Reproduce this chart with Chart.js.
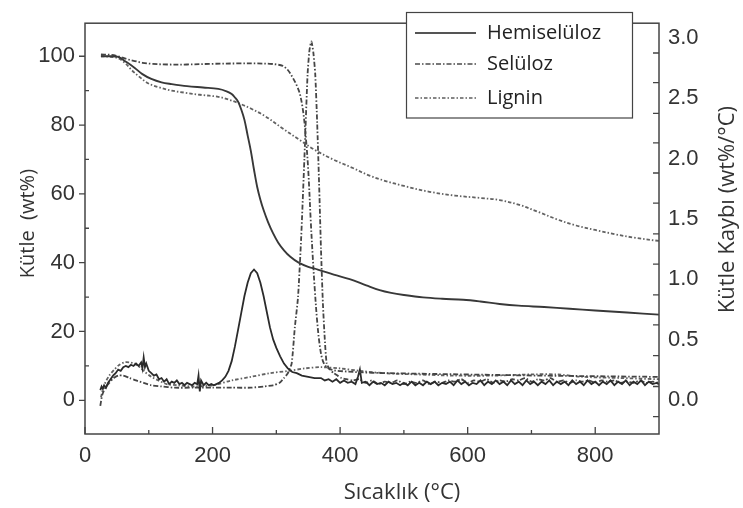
<!DOCTYPE html>
<html lang="tr">
<head>
<meta charset="utf-8">
<title>Hemiselüloz, Selüloz ve Lignin – TG / DTG</title>
<script src="https://cdn.jsdelivr.net/npm/chart.js@4.4.1/dist/chart.umd.min.js"></script>
<style>
  html, body { margin: 0; padding: 0; background: #fff; }
  #wrap { width: 743px; height: 508px; position: relative; }
</style>
</head>
<body>
<div id="wrap"><canvas id="c" width="743" height="508"></canvas></div>
<script>
// ---- axis ticks ----
const temperatureTicks = [0, 200, 400, 600, 800];
const temperatureMinorTicks = [100, 300, 500, 700];
const massTicks = [0, 20, 40, 60, 80, 100];
const massMinorTicks = [10, 30, 50, 70, 90];
const rateTicks = [0.0, 0.5, 1.0, 1.5, 2.0, 2.5, 3.0];
const rateTickMarks = [-0.14, 0.11, 0.365, 0.62, 0.87, 1.125, 1.375, 1.63, 1.88, 2.13, 2.375, 2.63, 2.875];

// ---- series names ----
const seriesNames = ['Hemiselüloz', 'Selüloz', 'Lignin'];

// ---- TG: mass (wt%) vs temperature (°C) ----
const hemiTG = [[25,100],[40,100],[52,99.8],[65,98.3],[78,96.6],[90,94.8],[104,93.4],[120,92.4],[136,91.9],[160,91.3],[185,90.9],[209,90.5],[222,89.8],[230,89],[236,87.8],[240,86.8],[245,84.5],[250,81.5],[255,77],[260,72.5],[265,67],[270,62],[275,58.3],[280,55.3],[287,51.8],[295,48.5],[303,45.8],[312,43.6],[322,41.7],[335,40],[350,38.8],[365,38],[390,36.5],[415,35.2],[441,33.4],[462,32],[480,31.2],[500,30.6],[530,29.9],[560,29.5],[593,29.2],[620,28.7],[650,28],[680,27.5],[720,27.1],[760,26.6],[800,26.1],[850,25.5],[900,24.9]];

const celluloseTG = [[25,100.5],[40,100.4],[52,100],[65,99.2],[78,98.6],[90,98.1],[104,97.8],[130,97.6],[160,97.6],[200,97.8],[240,97.9],[270,97.9],[290,97.8],[300,97.6],[310,97.2],[318,96],[325,94],[332,91.5],[337,89],[342,84],[346,77],[350,67],[354,52],[357,42],[360,33],[364,23],[368,16],[372,12],[377,10],[385,9],[400,8.5],[450,8],[500,7.8],[600,7.5],[700,7.2],[800,7],[900,6.8]];

const ligninTG = [[25,100],[40,99.8],[52,99.4],[63,98],[73,96],[84,94.2],[95,92.6],[104,91.7],[115,91],[136,90],[157,89.4],[180,88.8],[209,88.2],[225,87.4],[240,86.4],[260,84.8],[283,82.5],[310,79],[337,75.6],[360,72.8],[389,70],[420,67.5],[446,65.3],[470,63.8],[500,62.3],[540,60.6],[580,59.5],[620,58.8],[650,58.2],[681,56.8],[710,54.8],[740,52.6],[770,50.8],[800,49.5],[830,48.3],[860,47.3],[900,46.3]];

// ---- DTG: mass loss rate (wt%/°C) vs temperature (°C) ----
const hemiDTG = [[24,0.08],[26,0.11],[28,0.09],[30,0.12],[33,0.1],[36,0.14],[40,0.17],[44,0.2],[48,0.22],[52,0.25],[56,0.24],[60,0.27],[64,0.28],[68,0.27],[72,0.29],[76,0.28],[80,0.3],[84,0.28],[88,0.31],[90,0.26],[92,0.35],[94,0.27],[96,0.3],[100,0.24],[104,0.22],[108,0.2],[112,0.21],[116,0.17],[120,0.18],[124,0.15],[128,0.17],[132,0.13],[136,0.15],[140,0.14],[144,0.16],[148,0.13],[152,0.14],[156,0.12],[160,0.14],[164,0.13],[168,0.12],[172,0.14],[176,0.13],[178,0.2],[180,0.07],[182,0.16],[186,0.12],[190,0.14],[194,0.12],[198,0.13],[202,0.12],[206,0.13],[210,0.14],[215,0.16],[220,0.19],[225,0.24],[230,0.32],[235,0.44],[240,0.58],[245,0.72],[250,0.86],[255,0.97],[260,1.05],[265,1.08],[270,1.05],[275,0.97],[280,0.86],[285,0.73],[290,0.6],[295,0.5],[300,0.43],[306,0.36],[312,0.3],[318,0.26],[325,0.23],[332,0.22],[340,0.2],[350,0.19],[360,0.18],[370,0.18],[376,0.16],[382,0.17],[388,0.15],[394,0.17],[400,0.14],[406,0.16],[412,0.14],[418,0.15],[424,0.13],[428,0.19],[431,0.25],[434,0.14],[440,0.15],[446,0.12],[452,0.15],[458,0.13],[464,0.14],[470,0.12],[476,0.15],[482,0.13],[488,0.14],[494,0.12],[500,0.14],[506,0.12],[512,0.15],[518,0.12],[524,0.14],[530,0.12],[536,0.15],[542,0.13],[548,0.15],[554,0.12],[560,0.14],[566,0.13],[572,0.15],[578,0.12],[584,0.16],[590,0.13],[596,0.15],[602,0.12],[608,0.14],[614,0.13],[620,0.16],[626,0.12],[632,0.15],[638,0.13],[644,0.16],[650,0.13],[656,0.15],[662,0.12],[668,0.16],[674,0.13],[680,0.15],[686,0.12],[692,0.16],[698,0.13],[704,0.15],[710,0.12],[716,0.15],[722,0.13],[728,0.16],[734,0.12],[740,0.15],[746,0.13],[752,0.15],[758,0.12],[764,0.16],[770,0.13],[776,0.15],[782,0.12],[788,0.16],[794,0.13],[800,0.15],[806,0.12],[812,0.15],[818,0.13],[824,0.16],[830,0.12],[836,0.15],[842,0.13],[848,0.16],[854,0.12],[860,0.15],[866,0.13],[872,0.16],[878,0.12],[884,0.15],[890,0.13],[896,0.14],[900,0.13]];

const celluloseDTG = [[24,-0.05],[27,0.04],[32,0.1],[38,0.14],[45,0.18],[52,0.2],[60,0.2],[70,0.18],[80,0.16],[92,0.14],[104,0.12],[120,0.11],[140,0.1],[170,0.1],[200,0.1],[230,0.1],[260,0.1],[280,0.11],[295,0.12],[305,0.14],[312,0.18],[318,0.22],[324,0.3],[329,0.6],[334,0.85],[339,1.35],[344,2.0],[349,2.7],[352,2.9],[355,2.97],[358,2.88],[361,2.7],[364,2.3],[367,1.8],[370,1.25],[373,0.8],[376,0.5],[379,0.3],[384,0.25],[390,0.22],[396,0.2],[402,0.18],[410,0.17],[420,0.16],[430,0.17],[440,0.14],[450,0.16],[460,0.13],[470,0.15],[480,0.14],[490,0.16],[500,0.13],[510,0.15],[520,0.14],[530,0.16],[540,0.13],[550,0.15],[560,0.14],[570,0.16],[580,0.15],[590,0.17],[600,0.14],[610,0.16],[620,0.15],[630,0.17],[640,0.14],[650,0.16],[660,0.15],[670,0.17],[680,0.16],[690,0.18],[700,0.15],[710,0.17],[720,0.16],[730,0.18],[740,0.15],[750,0.16],[760,0.14],[770,0.16],[780,0.15],[790,0.16],[800,0.14],[810,0.16],[820,0.15],[830,0.16],[840,0.14],[850,0.15],[860,0.14],[870,0.16],[880,0.14],[890,0.15],[900,0.14]];

const ligninDTG = [[25,0.02],[30,0.12],[38,0.2],[46,0.25],[54,0.29],[62,0.31],[70,0.31],[78,0.3],[86,0.27],[94,0.23],[104,0.19],[115,0.16],[128,0.13],[145,0.12],[170,0.11],[200,0.12],[230,0.16],[260,0.19],[290,0.22],[320,0.24],[345,0.26],[370,0.27],[400,0.26],[430,0.24],[470,0.22],[520,0.21],[580,0.2],[640,0.2],[700,0.21],[740,0.21],[780,0.19],[840,0.18],[900,0.17]];

// ---- styles ----
const tickFont = { family: '"Liberation Sans", Arial, sans-serif', size: 22 };
const textFont = '"Open Sans", "Noto Sans", sans-serif';
const inkColor = '#333';
const hemiColor = '#383838';
const celluloseColor = '#454545';
const ligninColor = '#626262';
const celluloseDash = [5, 2, 1.5, 2];
const ligninDash = [3.5, 2, 1.5, 2];

const pts = arr => arr.map(([x, y]) => ({ x, y }));

const lineSet = (label, data, axis, color, dash, width, tension) => ({
  label, data: pts(data), yAxisID: axis,
  borderColor: color, borderWidth: width, borderDash: dash || [],
  pointRadius: 0, fill: false, tension: tension
});

const datasets = [
  lineSet(seriesNames[0], hemiTG, 'y', hemiColor, null, 1.9, 0.35),
  lineSet(seriesNames[1], celluloseTG, 'y', celluloseColor, celluloseDash, 1.8, 0.35),
  lineSet(seriesNames[2], ligninTG, 'y', ligninColor, ligninDash, 1.8, 0.35),
  lineSet(seriesNames[0] + ' DTG', hemiDTG, 'y2', '#2b2b2b', null, 1.8, 0),
  lineSet(seriesNames[1] + ' DTG', celluloseDTG, 'y2', celluloseColor, celluloseDash, 1.8, 0.2),
  lineSet(seriesNames[2] + ' DTG', ligninDTG, 'y2', ligninColor, ligninDash, 1.8, 0.3)
];

// frame, tick marks, axis titles and legend box
const decorPlugin = {
  id: 'decor',
  afterDraw(chart) {
    const { ctx, chartArea: a, scales } = chart;
    const sx = scales.x, sy = scales.y, sy2 = scales.y2;
    ctx.save();
    ctx.strokeStyle = '#444';
    ctx.lineWidth = 1.5;
    ctx.strokeRect(a.left, a.top, a.right - a.left, a.bottom - a.top);

    ctx.lineWidth = 1.3;
    ctx.beginPath();
    temperatureTicks.forEach(v => { const p = sx.getPixelForValue(v); ctx.moveTo(p, a.bottom); ctx.lineTo(p, a.bottom - 7); });
    temperatureMinorTicks.forEach(v => { const p = sx.getPixelForValue(v); ctx.moveTo(p, a.bottom); ctx.lineTo(p, a.bottom - 4); });
    massTicks.forEach(v => { const p = sy.getPixelForValue(v); ctx.moveTo(a.left - 6, p); ctx.lineTo(a.left, p); });
    massMinorTicks.forEach(v => { const p = sy.getPixelForValue(v); ctx.moveTo(a.left, p); ctx.lineTo(a.left + 4, p); });
    rateTickMarks.forEach(v => { const p = sy2.getPixelForValue(v); ctx.moveTo(a.right - 6, p); ctx.lineTo(a.right, p); });
    ctx.stroke();

    // axis titles
    ctx.fillStyle = inkColor;
    ctx.textAlign = 'center';
    ctx.textBaseline = 'middle';
    const midY = (a.top + a.bottom) / 2;

    ctx.save();
    ctx.translate(a.left - 57, midY - 5);
    ctx.rotate(-Math.PI / 2);
    ctx.font = '20px ' + textFont;
    ctx.fillText('Kütle  (wt%)', 0, 0);
    ctx.restore();

    ctx.save();
    ctx.translate(a.right + 69, midY - 19);
    ctx.rotate(-Math.PI / 2);
    ctx.font = '22px ' + textFont;
    ctx.fillText('Kütle Kaybı (wt%/°C)', 0, 0);
    ctx.restore();

    ctx.font = '22px ' + textFont;
    ctx.fillText('Sıcaklık (°C)', (a.left + a.right) / 2 + 30, a.bottom + 59);

    // legend
    const bx = 406.5, by = 12.5, bw = 226, bh = 105.5;
    ctx.fillStyle = '#fff';
    ctx.fillRect(bx, by, bw, bh);
    ctx.strokeStyle = '#444';
    ctx.lineWidth = 1.2;
    ctx.strokeRect(bx, by, bw, bh);
    const rows = [
      { ds: datasets[0], y: 33, color: '#555', w: 2 },
      { ds: datasets[1], y: 64, color: '#777', w: 1.8 },
      { ds: datasets[2], y: 98, color: '#858585', w: 1.8 }
    ];
    rows.forEach(r => {
      ctx.beginPath();
      ctx.setLineDash(r.ds.borderDash);
      ctx.strokeStyle = r.color;
      ctx.lineWidth = r.w;
      ctx.moveTo(415, r.y);
      ctx.lineTo(476, r.y);
      ctx.stroke();
      ctx.setLineDash([]);
      ctx.fillStyle = '#222';
      ctx.textAlign = 'left';
      ctx.font = '20px ' + textFont;
      ctx.fillText(r.ds.label, 487, r.y);
    });
    ctx.restore();
  }
};

new Chart(document.getElementById('c'), {
  type: 'line',
  data: { datasets },
  options: {
    responsive: false,
    animation: false,
    devicePixelRatio: 1,
    layout: { padding: { top: 8, left: 0, right: 0, bottom: 0 } },
    plugins: { legend: { display: false }, tooltip: { enabled: false } },
    scales: {
      x: {
        type: 'linear', position: 'bottom', min: 0, max: 900,
        grid: { display: false, drawTicks: false }, border: { display: false },
        ticks: { font: tickFont, color: inkColor, padding: 9, maxRotation: 0 },
        afterBuildTicks: s => { s.ticks = temperatureTicks.map(v => ({ value: v })); },
        afterFit: s => { s.height = 74; }
      },
      y: {
        type: 'linear', position: 'left', min: -9.8, max: 109.6,
        grid: { display: false, drawTicks: false }, border: { display: false },
        ticks: { font: tickFont, color: inkColor, padding: 10 },
        afterBuildTicks: s => { s.ticks = massTicks.map(v => ({ value: v })); },
        afterFit: s => { s.width = 85; }
      },
      y2: {
        type: 'linear', position: 'right', min: -0.284, max: 3.122,
        grid: { display: false, drawTicks: false }, border: { display: false },
        ticks: { font: tickFont, color: inkColor, padding: 9, callback: v => Number(v).toFixed(1) },
        afterBuildTicks: s => { s.ticks = rateTicks.map(v => ({ value: v })); },
        afterFit: s => { s.width = 84; }
      }
    }
  },
  plugins: [decorPlugin]
});
</script>
</body>
</html>
